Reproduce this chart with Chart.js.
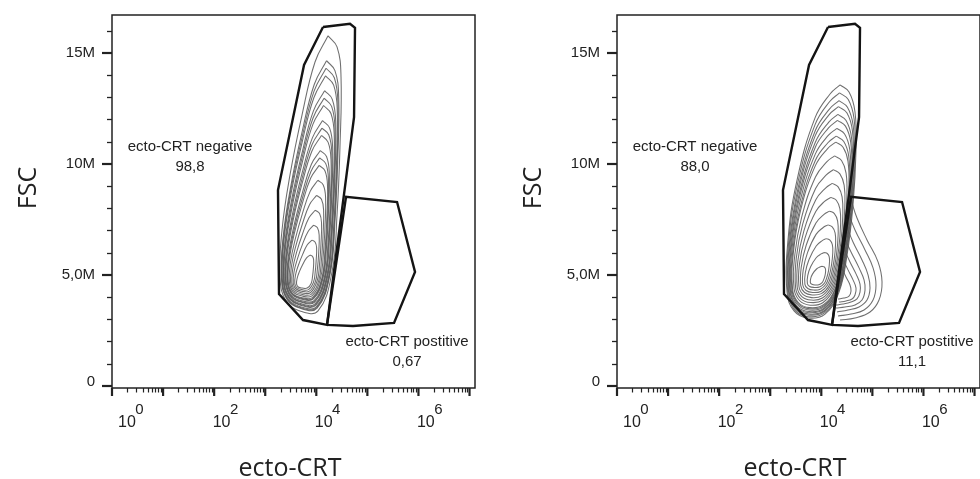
<!DOCTYPE html>
<html><head><meta charset="utf-8">
<script src="https://cdn.jsdelivr.net/npm/chart.js@4/dist/chart.umd.min.js"></script>
<style>
html,body{margin:0;padding:0;background:#fff;}
#wrap{position:relative;width:980px;height:479px;overflow:hidden;background:#fff;}
.panel{position:absolute;top:0;width:490px;height:479px;}
</style></head><body>
<div id="wrap">
<div class="panel" style="left:0"><canvas id="c1" width="490" height="479"></canvas></div>
<div class="panel" style="left:505px"><canvas id="c2" width="490" height="479"></canvas></div>
</div>
<script>
// ---------- axis ticks / labels ----------
const yTickValues = [0, 5, 10, 15];                 // FSC, millions
const yTickLabels = ['0', '5,0M', '10M', '15M'];
const yMinorTicks = [1, 2, 3, 4, 6, 7, 8, 9, 11, 12, 13, 14, 16];
const xDecades = [0, 1, 2, 3, 4, 5, 6, 7];
const xLabelExponents = [0, 2, 4, 6];
const xMinorMultipliers = [2, 3, 4, 5, 6, 7, 8, 9];
const xAxisTitle = 'ecto-CRT';
const yAxisTitle = 'FSC';
const gateNames = ['ecto-CRT negative', 'ecto-CRT postitive'];
const leftPercents = ['98,8', '0,67'];
const rightPercents = ['88,0', '11,1'];

// ---------- gates (log10 ecto-CRT, FSC in millions) ----------
const gateNegLogX = [4.132, 4.660, 4.758, 4.739, 4.210, 3.740, 3.270, 3.250, 3.760, 4.132];
const gateNegY    = [16.17, 16.31, 16.13, 12.11, 2.74, 2.96, 4.13, 8.82, 14.46, 16.17];
const gatePosLogX = [4.210, 4.582, 5.581, 5.933, 5.522, 4.719, 4.210];
const gatePosY    = [2.74, 8.51, 8.28, 5.13, 2.83, 2.69, 2.74];

// ---------- left sample contours ----------
const leftRingsLogX = [
 [4.230,4.406,4.484,4.464,4.406,4.308,4.034,3.681,3.407,3.290,3.329,3.485,3.720,3.975],
 [4.200,4.365,4.439,4.420,4.365,4.273,4.016,3.685,3.427,3.317,3.354,3.501,3.721,3.961],
 [4.191,4.353,4.424,4.406,4.353,4.263,4.010,3.686,3.434,3.326,3.362,3.505,3.722,3.956],
 [4.181,4.340,4.410,4.392,4.340,4.252,4.005,3.687,3.440,3.335,3.370,3.510,3.722,3.952],
 [4.162,4.313,4.381,4.363,4.313,4.229,3.993,3.689,3.453,3.353,3.386,3.520,3.723,3.942],
 [4.152,4.300,4.366,4.349,4.300,4.218,3.987,3.690,3.460,3.362,3.394,3.526,3.723,3.938],
 [4.142,4.287,4.351,4.334,4.287,4.206,3.981,3.692,3.467,3.371,3.403,3.531,3.724,3.933],
 [4.122,4.259,4.320,4.304,4.259,4.182,3.969,3.694,3.481,3.389,3.420,3.541,3.724,3.923],
 [4.111,4.245,4.304,4.289,4.245,4.171,3.963,3.695,3.488,3.399,3.428,3.547,3.725,3.918],
 [4.101,4.230,4.288,4.273,4.230,4.158,3.956,3.697,3.495,3.409,3.438,3.552,3.725,3.913],
 [4.079,4.200,4.254,4.240,4.200,4.132,3.943,3.699,3.510,3.429,3.456,3.564,3.726,3.902],
 [4.067,4.185,4.237,4.224,4.185,4.119,3.936,3.701,3.518,3.439,3.465,3.570,3.727,3.897],
 [4.056,4.169,4.219,4.206,4.169,4.106,3.929,3.702,3.526,3.450,3.475,3.576,3.727,3.891],
 [4.031,4.136,4.182,4.170,4.136,4.077,3.915,3.705,3.542,3.473,3.496,3.589,3.728,3.880],
 [4.006,4.101,4.143,4.132,4.101,4.048,3.899,3.708,3.560,3.496,3.517,3.602,3.729,3.867],
 [3.978,4.064,4.102,4.092,4.064,4.016,3.883,3.711,3.578,3.521,3.540,3.616,3.730,3.854],
 [3.948,4.023,4.056,4.048,4.023,3.981,3.865,3.715,3.598,3.549,3.565,3.632,3.731,3.840],
 [3.915,3.978,4.006,3.998,3.978,3.943,3.845,3.719,3.621,3.579,3.593,3.649,3.733,3.824],
 [3.877,3.926,3.948,3.943,3.926,3.899,3.822,3.723,3.647,3.614,3.625,3.669,3.734,3.806]
];
const leftRingsY = [
 [15.77,15.27,13.92,10.81,7.70,5.13,3.37,3.37,3.82,4.86,7.02,9.50,12.20,14.59],
 [14.65,14.20,12.98,10.18,7.38,5.07,3.49,3.49,3.89,4.83,6.77,9.00,11.43,13.59],
 [14.31,13.88,12.70,9.99,7.29,5.05,3.52,3.52,3.91,4.82,6.70,8.86,11.20,13.28],
 [13.97,13.55,12.42,9.81,7.19,5.04,3.56,3.56,3.94,4.81,6.62,8.71,10.97,12.98],
 [13.30,12.91,11.86,9.43,7.00,5.00,3.63,3.63,3.98,4.79,6.47,8.41,10.51,12.38],
 [12.96,12.59,11.58,9.24,6.91,4.98,3.66,3.66,4.00,4.78,6.40,8.26,10.29,12.08],
 [12.63,12.27,11.29,9.05,6.82,4.96,3.70,3.70,4.02,4.77,6.33,8.11,10.06,11.78],
 [11.95,11.62,10.73,8.68,6.63,4.93,3.77,3.77,4.06,4.75,6.18,7.81,9.60,11.17],
 [11.61,11.30,10.45,8.49,6.53,4.91,3.80,3.80,4.09,4.74,6.10,7.66,9.37,10.87],
 [11.28,10.98,10.17,8.30,6.44,4.89,3.84,3.84,4.11,4.73,6.03,7.52,9.14,10.57],
 [10.60,10.33,9.61,7.93,6.25,4.86,3.91,3.91,4.15,4.71,5.88,7.22,8.68,9.97],
 [10.27,10.01,9.32,7.74,6.15,4.84,3.94,3.94,4.17,4.70,5.80,7.07,8.45,9.67],
 [9.93,9.69,9.04,7.55,6.06,4.82,3.98,3.98,4.19,4.69,5.73,6.92,8.22,9.36],
 [9.26,9.05,8.48,7.17,5.87,4.79,4.05,4.05,4.24,4.67,5.58,6.62,7.76,8.76],
 [8.58,8.40,7.92,6.80,5.68,4.75,4.12,4.12,4.28,4.66,5.43,6.33,7.30,8.16],
 [7.91,7.76,7.35,6.42,5.49,4.72,4.19,4.19,4.32,4.64,5.28,6.03,6.84,7.56],
 [7.24,7.12,6.79,6.04,5.30,4.68,4.26,4.26,4.37,4.62,5.14,5.73,6.38,6.95],
 [6.56,6.47,6.23,5.67,5.11,4.65,4.33,4.33,4.41,4.60,4.99,5.43,5.92,6.35],
 [5.89,5.83,5.67,5.29,4.92,4.61,4.40,4.40,4.45,4.58,4.84,5.14,5.46,5.75]
];

// ---------- right sample contours ----------
const rightRingsLogX = [
 [4.367,4.543,4.660,4.680,4.621,4.504,4.347,4.073,3.740,3.466,3.329,3.348,3.525,3.877,4.171],
 [4.356,4.528,4.642,4.662,4.604,4.490,4.337,4.069,3.744,3.477,3.343,3.362,3.534,3.878,4.165],
 [4.345,4.512,4.624,4.643,4.586,4.475,4.326,4.065,3.749,3.488,3.358,3.376,3.544,3.879,4.159],
 [4.336,4.500,4.609,4.628,4.573,4.464,4.318,4.062,3.752,3.497,3.369,3.387,3.552,3.880,4.154],
 [4.325,4.485,4.591,4.609,4.555,4.449,4.307,4.058,3.756,3.508,3.384,3.401,3.561,3.881,4.147],
 [4.316,4.473,4.577,4.594,4.542,4.438,4.299,4.055,3.760,3.516,3.395,3.412,3.569,3.881,4.142],
 [4.305,4.456,4.557,4.575,4.524,4.423,4.288,4.051,3.764,3.528,3.410,3.426,3.579,3.882,4.136],
 [4.293,4.440,4.537,4.554,4.505,4.407,4.276,4.047,3.769,3.540,3.426,3.442,3.590,3.883,4.129],
 [4.283,4.426,4.522,4.538,4.490,4.395,4.267,4.044,3.773,3.550,3.438,3.454,3.598,3.884,4.124],
 [4.261,4.396,4.485,4.500,4.455,4.366,4.246,4.036,3.781,3.572,3.467,3.481,3.617,3.886,4.111],
 [4.238,4.364,4.447,4.461,4.419,4.336,4.224,4.028,3.790,3.595,3.497,3.510,3.637,3.888,4.098],
 [4.214,4.330,4.407,4.420,4.381,4.304,4.200,4.020,3.800,3.619,3.529,3.541,3.658,3.890,4.084],
 [4.188,4.294,4.365,4.377,4.341,4.271,4.176,4.011,3.810,3.645,3.562,3.573,3.680,3.892,4.070],
 [4.160,4.256,4.319,4.330,4.298,4.235,4.150,4.001,3.821,3.672,3.598,3.608,3.704,3.895,4.054],
 [4.131,4.214,4.270,4.280,4.252,4.196,4.121,3.991,3.832,3.702,3.637,3.646,3.730,3.897,4.037],
 [4.098,4.169,4.216,4.224,4.200,4.153,4.090,3.979,3.845,3.735,3.679,3.687,3.758,3.900,4.019],
 [4.060,4.117,4.154,4.160,4.142,4.104,4.054,3.966,3.860,3.772,3.728,3.734,3.791,3.904,3.998],
 [4.015,4.054,4.080,4.084,4.071,4.045,4.011,3.951,3.877,3.817,3.787,3.791,3.830,3.907,3.972]
];
const rightRingsY = [
 [13.56,13.24,12.34,10.63,8.15,5.89,4.22,3.23,3.05,3.37,4.22,6.57,9.27,12.07,13.15],
 [13.20,12.90,12.03,10.39,8.01,5.84,4.24,3.29,3.11,3.42,4.24,6.49,9.09,11.77,12.81],
 [12.85,12.55,11.73,10.15,7.87,5.79,4.26,3.35,3.18,3.47,4.26,6.42,8.90,11.48,12.47],
 [12.58,12.30,11.50,9.97,7.77,5.76,4.27,3.39,3.23,3.51,4.27,6.36,8.76,11.26,12.22],
 [12.23,11.95,11.19,9.74,7.63,5.71,4.29,3.45,3.29,3.56,4.29,6.29,8.58,10.96,11.88],
 [11.96,11.70,10.96,9.56,7.52,5.67,4.30,3.49,3.34,3.60,4.30,6.23,8.44,10.74,11.62],
 [11.60,11.35,10.65,9.32,7.38,5.62,4.32,3.55,3.41,3.66,4.32,6.15,8.26,10.44,11.28],
 [11.25,11.01,10.35,9.08,7.25,5.57,4.34,3.60,3.47,3.71,4.34,6.08,8.07,10.15,10.95],
 [10.98,10.75,10.12,8.90,7.14,5.54,4.35,3.65,3.52,3.75,4.35,6.02,7.94,9.92,10.69],
 [10.36,10.15,9.58,8.48,6.90,5.45,4.38,3.75,3.63,3.84,4.38,5.89,7.61,9.41,10.10],
 [9.74,9.55,9.04,8.07,6.65,5.37,4.41,3.85,3.75,3.93,4.41,5.75,7.29,8.89,9.50],
 [9.12,8.96,8.51,7.65,6.41,5.28,4.44,3.95,3.86,4.02,4.44,5.62,6.97,8.37,8.91],
 [8.49,8.36,7.97,7.23,6.17,5.19,4.48,4.05,3.97,4.11,4.48,5.49,6.65,7.85,8.32],
 [7.87,7.76,7.43,6.82,5.92,5.11,4.51,4.15,4.09,4.20,4.51,5.35,6.33,7.33,7.72],
 [7.25,7.16,6.89,6.40,5.68,5.02,4.54,4.25,4.20,4.29,4.54,5.22,6.00,6.82,7.13],
 [6.63,6.56,6.36,5.98,5.44,4.94,4.57,4.35,4.31,4.38,4.57,5.09,5.68,6.30,6.54],
 [6.00,5.96,5.82,5.56,5.19,4.85,4.60,4.45,4.43,4.47,4.60,4.96,5.36,5.78,5.94],
 [5.38,5.36,5.28,5.15,4.95,4.77,4.63,4.55,4.54,4.57,4.63,4.82,5.04,5.26,5.35]
];
// shoulder of ecto-CRT-positive events (open contour arcs)
const rightLobesLogX = [
 [4.582,4.699,4.895,5.111,5.189,5.130,4.954,4.660,4.367],
 [4.523,4.660,4.856,5.013,5.071,5.013,4.837,4.582,4.327],
 [4.484,4.621,4.797,4.915,4.954,4.895,4.739,4.523,4.308],
 [4.445,4.582,4.739,4.837,4.856,4.797,4.660,4.464,4.288],
 [4.425,4.562,4.680,4.758,4.758,4.699,4.582,4.425,4.288],
 [4.406,4.523,4.621,4.680,4.660,4.602,4.484,4.347],
 [4.386,4.484,4.562,4.582,4.543,4.445,4.327]
];
const rightLobesY = [
 [8.37,7.56,6.57,5.58,4.68,3.86,3.32,3.05,2.96],
 [7.83,7.02,6.12,5.31,4.54,3.86,3.41,3.23,3.14],
 [7.25,6.48,5.67,5.00,4.40,3.86,3.55,3.41,3.32],
 [6.70,6.03,5.31,4.77,4.31,3.86,3.64,3.55,3.50],
 [6.25,5.58,5.04,4.58,4.22,3.91,3.77,3.68,3.64],
 [5.80,5.22,4.77,4.40,4.09,3.91,3.82,3.77],
 [5.40,4.90,4.54,4.27,4.04,3.95,3.91]
];

// ---------- helpers ----------
function toPoints(logX, ys, close) {
  const pts = logX.map((v, i) => ({ x: Math.pow(10, v), y: ys[i] }));
  if (close) pts.push({ x: pts[0].x, y: pts[0].y });
  return pts;
}

const TEXT = '#222';
const LABEL_FONT = '15px "Liberation Sans", Arial, sans-serif';

const flowAxes = {
  id: 'flowAxes',
  afterDraw(chart, args, opts) {
    const { ctx, chartArea: a, scales: { x, y } } = chart;
    ctx.save();
    ctx.strokeStyle = '#222';
    ctx.fillStyle = TEXT;
    // frame
    ctx.lineWidth = 1.5;
    ctx.strokeRect(a.left, a.top, a.right - a.left, a.bottom - a.top);
    // y ticks
    ctx.lineWidth = 1.3;
    yMinorTicks.forEach(v => {
      const py = Math.round(y.getPixelForValue(v)) + 0.5;
      ctx.beginPath(); ctx.moveTo(a.left - 5, py); ctx.lineTo(a.left, py); ctx.stroke();
    });
    ctx.lineWidth = 2.2;
    yTickValues.forEach(v => {
      const py = Math.round(y.getPixelForValue(v));
      ctx.beginPath(); ctx.moveTo(a.left - 10, py); ctx.lineTo(a.left, py); ctx.stroke();
    });
    ctx.font = LABEL_FONT;
    ctx.textAlign = 'right';
    ctx.textBaseline = 'middle';
    yTickValues.forEach((v, i) => {
      const py = y.getPixelForValue(v) - (v === 0 ? 4 : 0);
      ctx.fillText(yTickLabels[i], a.left - 17, py);
    });
    // x ticks
    xDecades.forEach(d => {
      const base = Math.pow(10, d);
      let px = x.getPixelForValue(base);
      if (px >= a.left - 1 && px <= a.right + 1) {
        ctx.lineWidth = 2.2;
        ctx.beginPath(); ctx.moveTo(px, a.bottom); ctx.lineTo(px, a.bottom + 8); ctx.stroke();
      }
      ctx.lineWidth = 1.2;
      xMinorMultipliers.forEach(m => {
        const p = x.getPixelForValue(base * m);
        if (p > a.left && p < a.right) {
          const q = Math.round(p) + 0.5;
          ctx.beginPath(); ctx.moveTo(q, a.bottom); ctx.lineTo(q, a.bottom + 4.5); ctx.stroke();
        }
      });
    });
    // x tick labels 10^n
    ctx.textAlign = 'left';
    ctx.textBaseline = 'alphabetic';
    xLabelExponents.forEach(e => {
      const px = x.getPixelForValue(Math.pow(10, e));
      const left = Math.max(px - 1.5, a.left + 6);
      ctx.font = '16px "Liberation Sans", Arial, sans-serif';
      ctx.fillText('10', left, a.bottom + 39);
      const w = ctx.measureText('10').width;
      ctx.font = '15px "Liberation Sans", Arial, sans-serif';
      ctx.fillText(String(e), left + w - 0.5, a.bottom + 25.5);
    });
    // axis titles
    ctx.font = '25px "Open Sans", "Noto Sans", sans-serif';
    ctx.textAlign = 'center';
    ctx.fillText(xAxisTitle, a.left + 178, a.bottom + 88);
    ctx.save();
    ctx.translate(a.left - 76, a.top + 173);
    ctx.rotate(-Math.PI / 2);
    ctx.fillText(yAxisTitle, 0, 0);
    ctx.restore();
    // gate labels
    ctx.font = LABEL_FONT;
    ctx.textAlign = 'center';
    const nx = x.getPixelForValue(33.7);
    ctx.fillText(gateNames[0], nx, y.getPixelForValue(10.60));
    ctx.fillText(opts.pct[0], nx, y.getPixelForValue(9.68));
    const sx = x.getPixelForValue(5.97e5);
    ctx.fillText(gateNames[1], sx, y.getPixelForValue(1.80));
    ctx.fillText(opts.pct[1], sx, y.getPixelForValue(0.89));
    ctx.restore();
  }
};

function makeChart(id, ringsX, ringsY, lobesX, lobesY, pct) {
  const datasets = [];
  const gateStyle = { showLine: true, borderColor: '#141414', borderWidth: 2.4, pointRadius: 0, tension: 0, fill: false };
  datasets.push(Object.assign({ data: toPoints(gateNegLogX, gateNegY, false) }, gateStyle));
  datasets.push(Object.assign({ data: toPoints(gatePosLogX, gatePosY, false) }, gateStyle));
  const contourStyle = { showLine: true, borderColor: 'rgba(85,85,85,0.85)', borderWidth: 1.05, pointRadius: 0, tension: 0.42, fill: false };
  lobesX.forEach((lx, i) => datasets.push(Object.assign({ data: toPoints(lx, lobesY[i], false) }, contourStyle)));
  ringsX.forEach((rx, i) => datasets.push(Object.assign({ data: toPoints(rx, ringsY[i], true) }, contourStyle)));
  return new Chart(document.getElementById(id), {
    type: 'scatter',
    data: { datasets },
    options: {
      responsive: false,
      animation: false,
      events: [],
      layout: { padding: { left: 112, top: 15, right: 15, bottom: 91 } },
      plugins: { legend: { display: false }, tooltip: { enabled: false }, flowAxes: { pct } },
      scales: {
        x: { type: 'logarithmic', min: 1, max: 1.28e7, display: false },
        y: { type: 'linear', min: -0.104, max: 16.71, display: false }
      }
    },
    plugins: [flowAxes]
  });
}

makeChart('c1', leftRingsLogX, leftRingsY, [], [], leftPercents);
makeChart('c2', rightRingsLogX, rightRingsY, rightLobesLogX, rightLobesY, rightPercents);
</script>
</body></html>
